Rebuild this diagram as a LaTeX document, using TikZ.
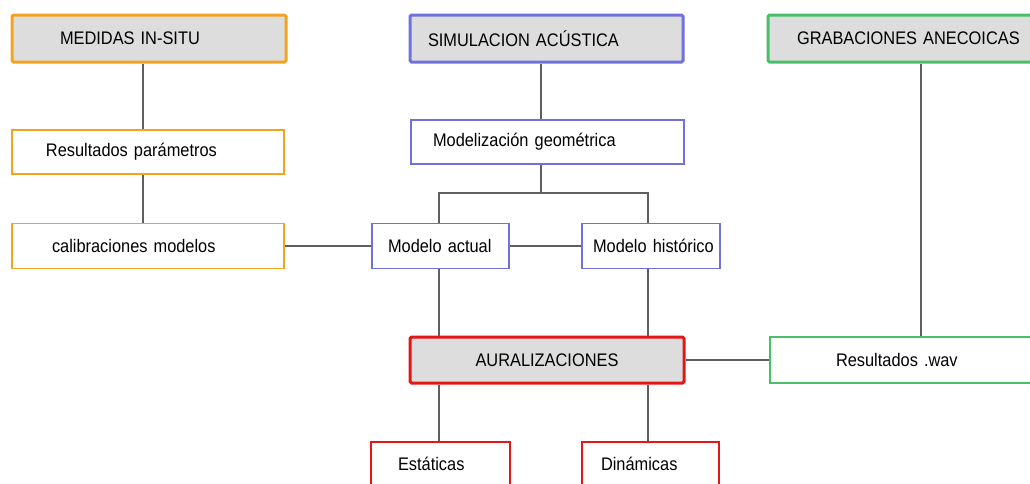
\documentclass[tikz,border=0pt]{standalone}
\usepackage{fontspec}
\setmainfont{Liberation Sans}[FakeStretch=0.9,WordSpace=0.85]
\definecolor{cor}{RGB}{243,163,30}
\definecolor{cbl}{RGB}{112,112,222}
\definecolor{cgr}{RGB}{72,192,104}
\definecolor{cre}{RGB}{228,22,22}
\definecolor{cfill}{RGB}{221,221,221}
\definecolor{cline}{RGB}{95,95,95}
\begin{document}
\begin{tikzpicture}[x=1pt,y=-1pt,
  box/.style={draw, line width=1.5pt, inner xsep=0pt, inner ysep=0pt, align=left,
    font=\fontsize{18.2}{22}\selectfont},
  head/.style={box, line width=3pt, fill=cfill, rounded corners=1.5pt},
  conn/.style={draw=cline, line width=1.5pt}]
\path[use as bounding box] (0,0) rectangle (1030,483);
% column / row helpers
\coordinate (xl) at (143,0);
\coordinate (xm) at (541,0);
\coordinate (xa) at (439,0);
\coordinate (xb) at (648,0);
\coordinate (xg) at (921,0);
\coordinate (yb) at (0,193);
% left column
\node[head, draw=cor, minimum width=274pt, minimum height=47pt, text width=274pt] (med) at (149,38.5) {\hspace*{48pt}MEDIDAS IN-SITU};
\node[box, draw=cor, minimum width=272pt, minimum height=44pt, text width=272pt] (res) at (148,152) {\hspace*{34pt}Resultados parámetros};
\node[box, draw=cor, minimum width=272pt, minimum height=45pt, text width=272pt] (cal) at (148,246) {\hspace*{40pt}calibraciones modelos};
% middle column
\node[head, draw=cbl, minimum width=273pt, minimum height=47pt, text width=273pt] (sim) at (546.5,38.5) {\hspace*{18pt}SIMULACION ACÚSTICA};
\node[box, draw=cbl, minimum width=273pt, minimum height=44pt, text width=273pt] (mod) at (547.5,142) {\hspace*{22pt}Modelización geométrica};
\node[box, draw=cbl, minimum width=137pt, minimum height=45pt, text width=137pt] (act) at (440.5,246) {\hspace*{16pt}Modelo actual};
\node[box, draw=cbl, minimum width=138pt, minimum height=45pt, text width=138pt] (his) at (651,246) {\hspace*{11pt}Modelo histórico};
\node[head, draw=cre, minimum width=274pt, minimum height=46pt, align=center] (aur) at (547,360) {AURALIZACIONES};
\node[box, draw=cre, minimum width=139pt, minimum height=44pt, text width=139pt] (est) at (440.5,464) {\hspace*{27pt}Estáticas};
\node[box, draw=cre, minimum width=137pt, minimum height=44pt, text width=137pt] (din) at (650.5,464) {\hspace*{19pt}Dinámicas};
% right column
\node[head, draw=cgr, minimum width=270pt, minimum height=47pt, text width=270pt] (gra) at (903,38.5) {\hspace*{29pt}GRABACIONES ANECOICAS};
\node[box, draw=cgr, minimum width=266pt, minimum height=46pt, text width=266pt] (wav) at (903,360) {\hspace*{66pt}Resultados .wav};
% connectors
\draw[conn] (med.south -| xl) -- (res.north -| xl);
\draw[conn] (res.south -| xl) -- (cal.north -| xl);
\draw[conn] (cal.east) -- (act.west);
\draw[conn] (sim.south -| xm) -- (mod.north -| xm);
\draw[conn] (mod.south -| xm) -- (xm |- yb);
\draw[conn] (act.north -| xa) -- (xa |- yb) -- (xb |- yb) -- (his.north -| xb);
\draw[conn] (act.east) -- (his.west);
\draw[conn] (act.south -| xa) -- (aur.north -| xa);
\draw[conn] (his.south -| xb) -- (aur.north -| xb);
\draw[conn] (aur.south -| xa) -- (est.north -| xa);
\draw[conn] (aur.south -| xb) -- (din.north -| xb);
\draw[conn] (aur.east) -- (wav.west);
\draw[conn] (gra.south -| xg) -- (wav.north -| xg);
\end{tikzpicture}
\end{document}
